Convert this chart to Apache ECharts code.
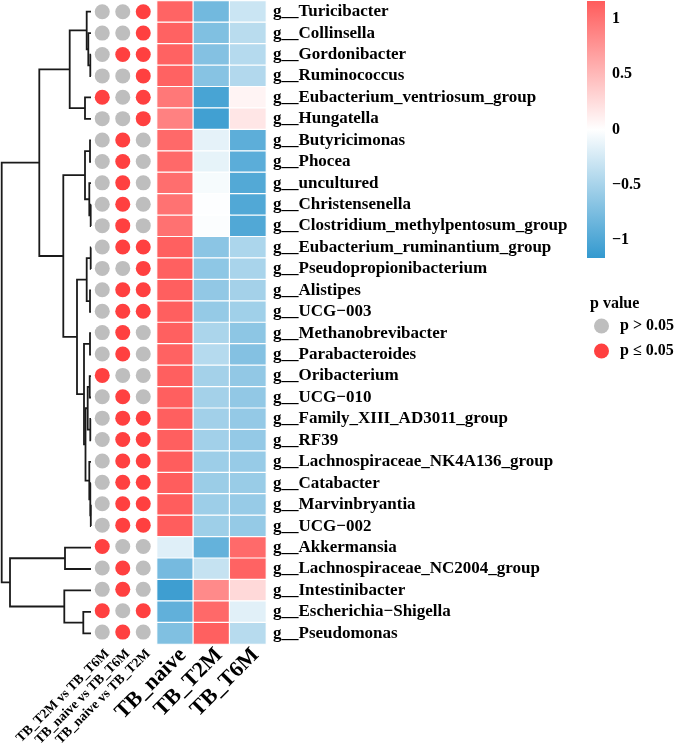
<!DOCTYPE html>
<html>
<head>
<meta charset="utf-8">
<script src="https://cdn.jsdelivr.net/npm/echarts@6/dist/echarts.min.js"></script>
<style>html,body{margin:0;padding:0;background:#fff}#c{width:685px;height:749px}</style>
</head>
<body>
<div id="c"></div>
<script>
// ---------- data ----------
const rowLabels = [
  'g__Turicibacter','g__Collinsella','g__Gordonibacter','g__Ruminococcus',
  'g__Eubacterium_ventriosum_group','g__Hungatella','g__Butyricimonas','g__Phocea',
  'g__uncultured','g__Christensenella','g__Clostridium_methylpentosum_group',
  'g__Eubacterium_ruminantium_group','g__Pseudopropionibacterium','g__Alistipes',
  'g__UCG\u2212003','g__Methanobrevibacter','g__Parabacteroides','g__Oribacterium',
  'g__UCG\u2212010','g__Family_XIII_AD3011_group','g__RF39','g__Lachnospiraceae_NK4A136_group',
  'g__Catabacter','g__Marvinbryantia','g__UCG\u2212002','g__Akkermansia',
  'g__Lachnospiraceae_NC2004_group','g__Intestinibacter','g__Escherichia\u2212Shigella','g__Pseudomonas'
];
const colLabels = ['TB_naive','TB_T2M','TB_T6M'];
const compLabels = ['TB_T2M vs TB_T6M','TB_naive vs TB_T6M','TB_naive vs TB_T2M'];

const naive = [1.10,1.12,1.12,1.12,0.96,0.90,1.07,1.07,1.03,1.00,1.01,1.13,1.13,1.14,1.14,
               1.13,1.12,1.14,1.14,1.14,1.14,1.15,1.15,1.15,1.15,-0.18,-0.78,-1.10,-0.90,-0.72];
const t2m   = [-0.80,-0.72,-0.70,-0.68,-1.04,-1.08,-0.15,-0.14,-0.05,-0.01,-0.02,-0.66,-0.64,-0.62,-0.60,
               -0.48,-0.42,-0.52,-0.52,-0.53,-0.53,-0.56,-0.57,-0.56,-0.55,-0.88,-0.33,0.83,1.07,1.13];
const t6m   = [-0.30,-0.40,-0.42,-0.44,0.08,0.18,-0.92,-0.93,-0.98,-0.99,-0.99,-0.47,-0.49,-0.52,-0.54,
               -0.65,-0.70,-0.62,-0.62,-0.61,-0.61,-0.59,-0.58,-0.59,-0.60,1.06,1.11,0.27,-0.17,-0.41];

// significance (1 = p <= 0.05)
const sigT2MvsT6M   = [0,0,0,0,1,0,0,0,0,0,0,0,0,0,0,0,0,1,0,0,0,0,0,0,0,1,0,0,1,0];
const sigNaiveVsT6M = [0,0,1,0,0,0,1,1,1,1,1,1,0,1,1,1,1,0,1,1,1,1,1,1,1,0,1,1,0,1];
const sigNaiveVsT2M = [1,1,1,1,1,1,0,0,0,0,0,1,1,1,1,0,0,0,0,1,1,1,1,1,1,0,0,0,1,0];

// dendrogram merges (negative = leaf number in display order, positive = earlier merge step)
const mergeA = [-24,-10,-12,-3,-20,-23,-7,-14,-16,-18,-9,-22,-2,10,-1,3,14,-5,7,9,-29,16,15,-26,-28,19,23,24,27];
const mergeB = [-25,-11,-13,-4,-21,1,-8,-15,-17,-19,2,6,4,5,13,8,12,-6,11,17,-30,20,18,-27,21,22,26,25,28];
const mergeHeight = [0.2,0.3,0.3,0.7,0.7,0.7,1.0,1.0,1.0,1.3,1.7,1.7,2.7,3.3,4.3,4.3,5.5,6.0,6.0,7.0,7.7,14,21.3,26,26.7,27.7,51.7,81,89.3];

const legendTicks = [-1,-0.5,0,0.5,1];
const colorMin = -1.16, colorMax = 1.16;
const blue = '#3399CF', red = '#FF5C5C';

// ---------- build ----------
const heatData = [];
const cols = [naive, t2m, t6m];
rowLabels.forEach((_, i) => cols.forEach((arr, j) => heatData.push([j, i, arr[i]])));

const sigCols = [sigT2MvsT6M, sigNaiveVsT6M, sigNaiveVsT2M];
const greyDots = [], redDots = [];
rowLabels.forEach((_, i) => sigCols.forEach((arr, j) => (arr[i] ? redDots : greyDots).push([j, i])));

const nodes = [];
const segs = [];
function nodeOf(id) { return id < 0 ? { y: -id - 1, h: 0 } : nodes[id - 1]; }
for (let k = 0; k < mergeA.length; k++) {
  const a = nodeOf(mergeA[k]), b = nodeOf(mergeB[k]), h = mergeHeight[k];
  segs.push([a.h, a.y, h, a.y, h, b.y, b.h, b.y]);
  nodes.push({ y: (a.y + b.y) / 2, h: h });
}

const FONT = 'Liberation Serif';
const TOP = 1, H = 643;

const chart = echarts.init(document.getElementById('c'));
chart.setOption({
  backgroundColor: '#fff',
  animation: false,
  title: {
    text: 'p value', left: 590, top: 296, padding: 0,
    textStyle: { fontFamily: FONT, fontWeight: 'bold', fontSize: 16, color: '#000' }
  },
  legend: {
    data: [{ name: 'p > 0.05', icon: 'circle' }, { name: 'p \u2264 0.05', icon: 'circle' }],
    orient: 'vertical', left: 594, top: 318, padding: 0,
    itemWidth: 15, itemHeight: 15, itemGap: 9,
    selectedMode: false,
    textStyle: { fontFamily: FONT, fontWeight: 'bold', fontSize: 16, color: '#000', padding: [0, 0, 0, 6] }
  },
  visualMap: {
    show: false, type: 'continuous', min: colorMin, max: colorMax, seriesIndex: 3,
    inRange: { color: [blue, '#FFFFFF', red] }
  },
  grid: [
    { left: 0, width: 91, top: TOP, height: H },
    { left: 92, width: 61.5, top: TOP, height: H },
    { left: 157, width: 109, top: TOP, height: H },
    { left: 587, width: 18, top: 1, height: 257 }
  ],
  xAxis: [
    { gridIndex: 0, type: 'value', min: 0, max: 91, inverse: true, show: false },
    { gridIndex: 1, type: 'category', data: compLabels,
      axisLine: { show: false }, axisTick: { show: false },
      axisLabel: { interval: 0, rotate: 45, margin: 4, verticalAlign: 'top', fontFamily: FONT, fontWeight: 'bold', fontSize: 13.5, color: '#000' } },
    { gridIndex: 2, type: 'category', data: colLabels,
      axisLine: { show: false }, axisTick: { show: false },
      axisLabel: { interval: 0, rotate: 45, margin: 0, verticalAlign: 'top', fontFamily: FONT, fontWeight: 'bold', fontSize: 22, color: '#000' } },
    { gridIndex: 3, type: 'value', min: 0, max: 1, show: false }
  ],
  yAxis: [
    { gridIndex: 0, type: 'value', min: -0.5, max: 29.5, inverse: true, show: false },
    { gridIndex: 1, type: 'value', min: -0.5, max: 29.5, inverse: true, show: false },
    { gridIndex: 2, type: 'category', data: rowLabels, inverse: true, position: 'right',
      axisLine: { show: false }, axisTick: { show: false }, splitLine: { show: false },
      axisLabel: { interval: 0, margin: 7, fontFamily: FONT, fontWeight: 'bold', fontSize: 17, color: '#000' } },
    { gridIndex: 3, type: 'value', min: colorMin, max: colorMax, position: 'right',
      axisLine: { show: false }, axisTick: { show: false }, splitLine: { show: false },
      axisLabel: { customValues: legendTicks, margin: 7,
        fontFamily: FONT, fontWeight: 'bold', fontSize: 16, color: '#000',
        formatter: v => (v < 0 ? '\u2212' + Math.abs(v) : String(v)) } }
  ],
  series: [
    {
      type: 'custom', xAxisIndex: 0, yAxisIndex: 0, silent: true,
      encode: { x: [0, 2, 4, 6], y: [1, 3, 5, 7] },
      data: segs,
      renderItem: function (params, api) {
        const pts = [0, 1, 2, 3].map(p => api.coord([api.value(2 * p), api.value(2 * p + 1)]));
        return { type: 'polyline', shape: { points: pts }, style: { stroke: '#1a1a1a', lineWidth: 1.8, fill: 'none' } };
      }
    },
    { name: 'p > 0.05', type: 'scatter', xAxisIndex: 1, yAxisIndex: 1, data: greyDots,
      symbol: 'circle', symbolSize: 15, itemStyle: { color: '#BEBEBE', opacity: 1 }, silent: true },
    { name: 'p \u2264 0.05', type: 'scatter', xAxisIndex: 1, yAxisIndex: 1, data: redDots,
      symbol: 'circle', symbolSize: 15, itemStyle: { color: '#FF4040', opacity: 1 }, silent: true },
    { type: 'heatmap', xAxisIndex: 2, yAxisIndex: 2, data: heatData,
      itemStyle: { borderColor: '#fff', borderWidth: 1.2 }, silent: true },
    {
      type: 'custom', xAxisIndex: 3, yAxisIndex: 3, silent: true,
      data: [[0, colorMin, 1, colorMax]],
      encode: { x: [0, 2], y: [1, 3] },
      renderItem: function (params, api) {
        const p1 = api.coord([api.value(0), api.value(3)]);
        const p2 = api.coord([api.value(2), api.value(1)]);
        return { type: 'rect', shape: { x: p1[0], y: p1[1], width: p2[0] - p1[0], height: p2[1] - p1[1] },
          style: { fill: new echarts.graphic.LinearGradient(0, 0, 0, 1, [
            { offset: 0, color: red }, { offset: 0.5, color: '#FFFFFF' }, { offset: 1, color: blue }]) } };
      }
    }
  ]
});
</script>
</body>
</html>
